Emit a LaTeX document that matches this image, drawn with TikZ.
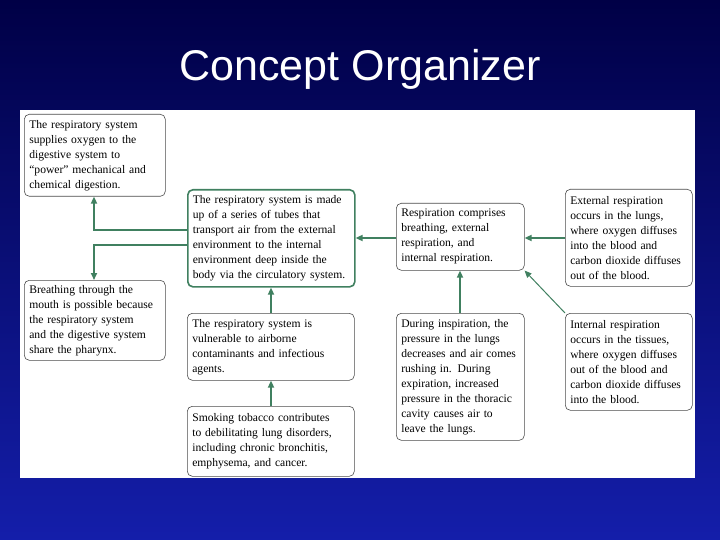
\documentclass[tikz,border=0pt]{standalone}
\usepackage{fontspec}
\setmainfont{Liberation Serif}
\newfontfamily\titlefont{Liberation Sans}
\usetikzlibrary{arrows.meta}
\definecolor{grn}{RGB}{64,128,96}
\definecolor{navytop}{RGB}{0,0,70}
\definecolor{navybot}{RGB}{20,30,170}
\tikzset{x=1pt,y=-1pt,
 box/.style={draw=black!70,rounded corners=5pt,line width=0.6pt,fill=white,align=left,anchor=north west,inner xsep=5pt,inner ysep=3pt,font=\fontsize{11.6}{15}\selectfont},
 gbox/.style={box,draw=grn,line width=1.6pt},
 con/.style={draw=grn,line width=1.6pt,-{Triangle[length=7pt,width=6pt]}}}
\begin{document}
\begin{tikzpicture}
\shade[top color=navytop,bottom color=navybot] (0,0) rectangle (720,540);
\useasboundingbox (0,0) rectangle (720,540);
\node[text=white,font=\titlefont\fontsize{43}{47}\selectfont] (title) at (360,69) {Concept Organizer};
\fill[white] (20,110) rectangle (695,478);
\node[box,text width=131pt,minimum height=82pt] (A) at (24,114) {The respiratory system\\supplies oxygen to the\\digestive system to\\“power” mechanical and\\chemical digestion.};
\node[box,text width=131pt,minimum height=80pt] (B) at (24,280) {Breathing through the\\mouth is possible because\\the respiratory system\\and the digestive system\\share the pharynx.};
\node[gbox,text width=157pt,minimum height=97pt] (C) at (187,189) {The respiratory system is made\\up of a series of tubes that\\transport air from the external\\environment to the internal\\environment deep inside the\\body via the circulatory system.};
\node[box,text width=157pt,minimum height=67pt] (D) at (187,313) {The respiratory system is\\vulnerable to airborne\\contaminants and infectious\\agents.};
\node[box,text width=157pt,minimum height=70pt] (E) at (187,406) {Smoking tobacco contributes\\to debilitating lung disorders,\\including chronic bronchitis,\\emphysema, and cancer.};
\node[box,text width=118pt,minimum height=67pt] (F) at (396,203) {Respiration comprises\\breathing, external\\respiration, and\\internal respiration.};
\node[box,text width=118pt,minimum height=127pt] (G) at (396,313) {During inspiration, the\\pressure in the lungs\\decreases and air comes\\rushing in. During\\expiration, increased\\pressure in the thoracic\\cavity causes air to\\leave the lungs.};
\node[box,text width=117pt,minimum height=97pt] (H) at (565,189) {External respiration\\occurs in the lungs,\\where oxygen diffuses\\into the blood and\\carbon dioxide diffuses\\out of the blood.};
\node[box,text width=117pt,minimum height=97pt] (I) at (565,313) {Internal respiration\\occurs in the tissues,\\where oxygen diffuses\\out of the blood and\\carbon dioxide diffuses\\into the blood.};
\draw[con] (C.west|-0,230) -| (A.south-|94,0);
\draw[con] (C.west|-0,245) -| (B.north-|94,0);
\draw[con] (D.north-|271,0) -- (C.south-|271,0);
\draw[con] (E.north-|271,0) -- (D.south-|271,0);
\draw[con] (F.west|-0,238) -- (C.east|-0,238);
\draw[con] (H.west|-0,238) -- (F.east|-0,238);
\draw[con] (G.north-|460,0) -- (F.south-|460,0);
\draw[con,line width=1pt] (I.north west) -- (F.south east);
\end{tikzpicture}
\end{document}
